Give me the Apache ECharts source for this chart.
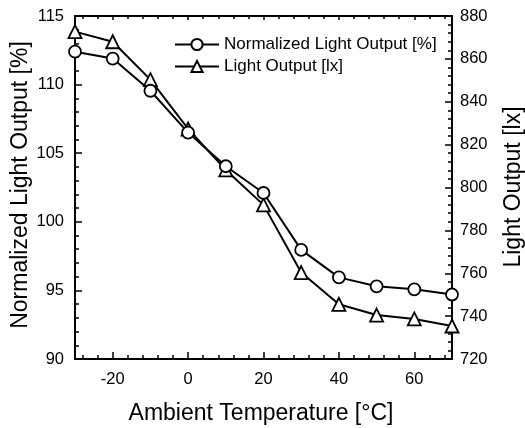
<!DOCTYPE html>
<html><head><meta charset="utf-8">
<script src="https://cdn.jsdelivr.net/npm/echarts@6/dist/echarts.min.js"></script>
<style>html,body{margin:0;padding:0;background:#fff}#c{width:525px;height:428px}</style>
</head><body><div id="c"></div>
<script>
var temps = [-30, -20, -10, 0, 10, 20, 30, 40, 50, 60, 70];
var normalized = [112.4, 111.9, 109.55, 106.5, 104.05, 102.1, 97.95, 95.95, 95.3, 95.08, 94.7];
var lux = [872.7, 868.0, 850.3, 827.3, 808.2, 791.9, 760.3, 745.5, 740.5, 738.7, 735.4];
var xMajorTicks = [-20, 0, 20, 40, 60];
var xMinorTicks = [-28, -24, -16, -12, -8, -4, 4, 8, 12, 16, 24, 28, 32, 36, 44, 48, 52, 56, 64, 68];
var xTitle = 'Ambient Temperature [°C]';
var yLeftTitle = 'Normalized Light Output [%]';
var yRightTitle = 'Light Output [lx]';

var font = 'Liberation Sans, Arial, sans-serif';
var chart = echarts.init(document.getElementById('c'));
function xAx(pos, ticks, len, labels) {
  return {
    type: 'value', min: -30, max: 70, position: pos,
    axisLine: { show: true, onZero: false, lineStyle: { color: '#000', width: 2 } },
    axisTick: { show: true, inside: true, length: len, customValues: ticks, lineStyle: { color: '#000', width: 1.5 } },
    axisLabel: { show: labels, customValues: ticks, color: '#000', fontFamily: font, fontSize: 16.5, margin: 12 },
    splitLine: { show: false }
  };
}
var xAxes = [xAx('bottom', xMajorTicks, 7, true), xAx('bottom', xMinorTicks, 4, false), xAx('top', xMajorTicks, 4, false), xAx('top', xMinorTicks, 3, false)];

function yAx(min, max, interval, pos, margin) {
  return {
    type: 'value', min: min, max: max, interval: interval, position: pos,
    axisLine: { show: true, onZero: false, lineStyle: { color: '#000', width: 2 } },
    axisTick: { show: true, inside: true, length: 7, lineStyle: { color: '#000', width: 1.5 } },
    minorTick: { show: true, splitNumber: 5, length: 4, lineStyle: { color: '#000', width: 1.5 } },
    axisLabel: { color: '#000', fontFamily: font, fontSize: 16.5, margin: margin },
    splitLine: { show: false }
  };
}
function title(text, x, y, rot) {
  return {
    type: 'text', x: x, y: y, rotation: rot, silent: true,
    style: { text: text, fill: '#000', font: '23px ' + font, align: 'center', verticalAlign: 'middle',
             textAlign: 'center', textVerticalAlign: 'middle' }
  };
}

chart.setOption({
  animation: false,
  grid: { left: 75, right: 73, top: 16, bottom: 69 },
  legend: {
    left: 169, top: 31, orient: 'vertical', itemWidth: 44, itemHeight: 14, itemGap: 5,
    textStyle: { color: '#000', fontFamily: font, fontSize: 17 },
    data: [yLeftTitle, 'Light Output [lx]']
  },
  graphic: [
    title(xTitle, 261, 414, 0),
    title(yLeftTitle, 20.5, 185, Math.PI / 2),
    title(yRightTitle, 514, 187, Math.PI / 2)
  ],
  xAxis: xAxes,
  yAxis: [yAx(90, 115, 5, 'left', 11), yAx(720, 880, 20, 'right', 8)],
  series: [{
    name: yLeftTitle, type: 'line', xAxisIndex: 0, yAxisIndex: 0,
    data: temps.map(function (t, i) { return [t, normalized[i]]; }),
    symbol: 'circle', symbolSize: 12, showAllSymbol: true,
    lineStyle: { color: '#000', width: 2 },
    itemStyle: { color: '#fff', borderColor: '#000', borderWidth: 1.8 },
    z: 3
  }, {
    name: 'Light Output [lx]', type: 'line', xAxisIndex: 0, yAxisIndex: 1,
    data: temps.map(function (t, i) { return [t, lux[i]]; }),
    symbol: 'triangle', symbolSize: 13, showAllSymbol: true,
    lineStyle: { color: '#000', width: 2 },
    itemStyle: { color: '#fff', borderColor: '#000', borderWidth: 1.8 },
    z: 2
  }]
});
</script></body></html>
